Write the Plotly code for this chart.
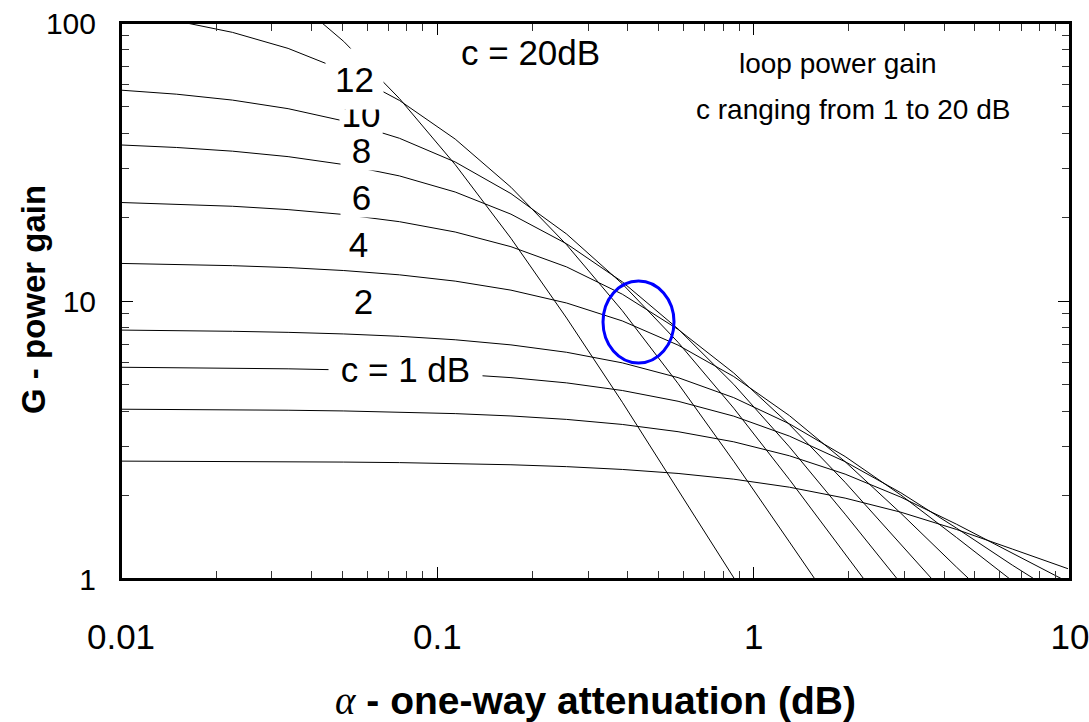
import plotly.graph_objects as go

# ---------------- data ----------------
alpha = [0.01, 0.015, 0.0225, 0.03375, 0.0506, 0.0759, 0.1139, 0.1709, 0.2563,
         0.3844, 0.5767, 0.865, 1.297, 1.946, 2.919, 4.379, 6.568, 9.853]

G_c1 = [2.655, 2.652, 2.648, 2.643, 2.634, 2.622, 2.603, 2.576, 2.536, 2.478,
        2.397, 2.286, 2.139, 1.954, 1.739, 1.507, 1.282, 1.089]
G_c2 = [4.081, 4.074, 4.063, 4.047, 4.023, 3.987, 3.935, 3.859, 3.750, 3.597,
        3.388, 3.115, 2.775, 2.384, 1.970, 1.574, 1.235, 0.975]
G_c3 = [5.777, 5.761, 5.737, 5.702, 5.650, 5.573, 5.461, 5.301, 5.075, 4.765,
        4.359, 3.853, 3.266, 2.643, 2.043, 1.524, 1.122, 0.839]
G_c4 = [7.859, 7.828, 7.781, 7.713, 7.612, 7.465, 7.253, 6.952, 6.539, 5.991,
        5.302, 4.491, 3.616, 2.758, 2.005, 1.410, 0.985]
G_c6 = [13.65, 13.55, 13.40, 13.19, 12.87, 12.42, 11.79, 10.94, 9.834, 8.478,
        6.940, 5.350, 3.871, 2.642, 1.724, 1.103, 0.713]
G_c8 = [22.61, 22.33, 21.92, 21.32, 20.47, 19.29, 17.71, 15.68, 13.26, 10.58,
        7.906, 5.509, 3.596, 2.227, 1.335, 0.797]
G_c10 = [36.41, 35.66, 34.59, 33.06, 30.96, 28.18, 24.66, 20.53, 16.06, 11.72,
         7.936, 5.013, 2.988, 1.711, 0.964]
G_c12 = [57.33, 55.45, 52.81, 49.19, 44.42, 38.49, 31.62, 24.34, 17.41, 11.53,
         7.105, 4.116, 2.280, 1.231, 0.664]
G_c15 = [108.5, 101.7, 92.55, 81.03, 67.42, 52.66, 38.23, 25.66, 15.93, 9.227,
         5.048, 2.651, 1.360, 0.694]
G_c20 = [None, None, None, 127.1, 85.82, 53.49, 30.95, 16.81, 8.680, 4.324,
         2.105, 1.014, 0.489]

curves = [G_c1, G_c2, G_c3, G_c4, G_c6, G_c8, G_c10, G_c12, G_c15, G_c20]

x_major = [0.01, 0.1, 1, 10]
x_major_text = ["0.01", "0.1", "1", "10"]
y_major = [1, 10, 100]
y_major_text = ["1", "10", "100"]
x_minor = [0.02, 0.03, 0.04, 0.05, 0.06, 0.07, 0.08, 0.09,
           0.2, 0.3, 0.4, 0.5, 0.6, 0.7, 0.8, 0.9,
           2, 3, 4, 5, 6, 7, 8, 9]
y_minor = [2, 3, 4, 5, 6, 7, 8, 9, 20, 30, 40, 50, 60, 70, 80, 90]

# highlighted region (blue ellipse)
ellipse_x = [0.334, 0.56]
ellipse_y = [5.98, 11.8]

# ---------------- layout constants ----------------
W, H = 1089, 722
L, R, T, B = 121, 19, 23, 143
PW, PH = W - L - R, H - T - B
FONT = "Liberation Sans, Arial, Helvetica, sans-serif"


def px(xp, yp):
    return (xp - L) / PW, (T + PH - yp) / PH


fig = go.Figure()
for g in curves:
    xs = alpha[:len(g)]
    fig.add_trace(go.Scatter(x=xs, y=g, mode="lines",
                             line=dict(color="black", width=1),
                             showlegend=False, hoverinfo="skip"))
# empty trace so the top/right frame axes are drawn
fig.add_trace(go.Scatter(x=[None], y=[None], xaxis="x2", yaxis="y2",
                         showlegend=False, hoverinfo="skip"))

fig.add_shape(type="circle", xref="x", yref="y",
              x0=ellipse_x[0], x1=ellipse_x[1], y0=ellipse_y[0], y1=ellipse_y[1],
              line=dict(color="#0000ff", width=3), layer="above")
# plot frame
fig.add_shape(type="rect", xref="paper", yref="paper", x0=0, x1=1, y0=0, y1=1,
              line=dict(color="black", width=2), layer="above")

axis_common = dict(type="log", showgrid=False, zeroline=False, showline=True,
                   linecolor="black", linewidth=2, mirror=False, automargin=False,
                   ticks="inside", ticklen=12, tickwidth=1, tickcolor="black",
                   tickmode="array", ticklabeloverflow="allow")
minor_x = dict(tickmode="array", tickvals=x_minor, ticks="inside",
               ticklen=8, tickwidth=1, tickcolor="#333")
minor_y = dict(tickmode="array", tickvals=y_minor, ticks="inside",
               ticklen=8, tickwidth=1, tickcolor="#333")

fig.update_layout(
    xaxis=dict(**axis_common, range=[-2, 1], tickvals=x_major, ticktext=x_major_text,
               tickfont=dict(size=35, family=FONT, color="black"),
               ticklabelstandoff=26, minor=minor_x),
    yaxis=dict(**axis_common, range=[0, 2], tickvals=y_major, ticktext=y_major_text,
               tickfont=dict(size=30, family=FONT, color="black"),
               ticklabelstandoff=17, minor=minor_y),
    xaxis2=dict(**axis_common, range=[-2, 1], tickvals=x_major, showticklabels=False,
                overlaying="x", side="top", anchor="y", minor=minor_x),
    yaxis2=dict(**axis_common, range=[0, 2], tickvals=y_major, showticklabels=False,
                overlaying="y", side="right", anchor="x", minor=minor_y),
)

fig.update_layout(width=W, height=H, margin=dict(l=L, r=R, t=T, b=B, pad=0, autoexpand=False),
                  paper_bgcolor="white", plot_bgcolor="white", showlegend=False,
                  font=dict(family=FONT, color="black"))

ann = []


def label(text, xp, yp, size=35, w=None, h=None, bg="white"):
    x, y = px(xp, yp)
    d = dict(text=text, x=x, y=y, xref="paper", yref="paper", showarrow=False,
             xanchor="center", yanchor="middle", font=dict(size=size, family=FONT, color="black"),
             borderpad=0)
    if bg:
        d["bgcolor"] = bg
    if w:
        d["width"] = w
    if h:
        d["height"] = h
    ann.append(d)


label("10", 361, 114, w=42, h=38)
label("12", 354.5, 79, w=57, h=60)
label("8", 361.5, 150, w=41, h=40)
label("6", 361.5, 197, w=41, h=40)
label("4", 358, 244, w=41, h=40)
label("2", 363, 301, w=41, h=40)
label("c = 1 dB", 405, 369, w=153, h=38)
label("c = 20dB", 530, 52, bg=None)
label("loop power gain", 838, 63, size=28, bg=None)
label("c ranging from 1 to 20 dB", 853, 109, size=28, bg=None)

xt, yt = px(595, 700)
ann.append(dict(text="<i><span style='font-family:Liberation Serif'>α</span></i><b> - one-way attenuation (dB)</b>",
                x=xt, y=yt, xref="paper", yref="paper", showarrow=False,
                xanchor="center", yanchor="middle", font=dict(size=39, family=FONT, color="black")))
xt, yt = px(33, 300)
ann.append(dict(text="<b>G - power gain</b>", textangle=-90,
                x=xt, y=yt, xref="paper", yref="paper", showarrow=False,
                xanchor="center", yanchor="middle", font=dict(size=33, family=FONT, color="black")))

fig.update_layout(annotations=ann)
fig.write_html("out.html")
